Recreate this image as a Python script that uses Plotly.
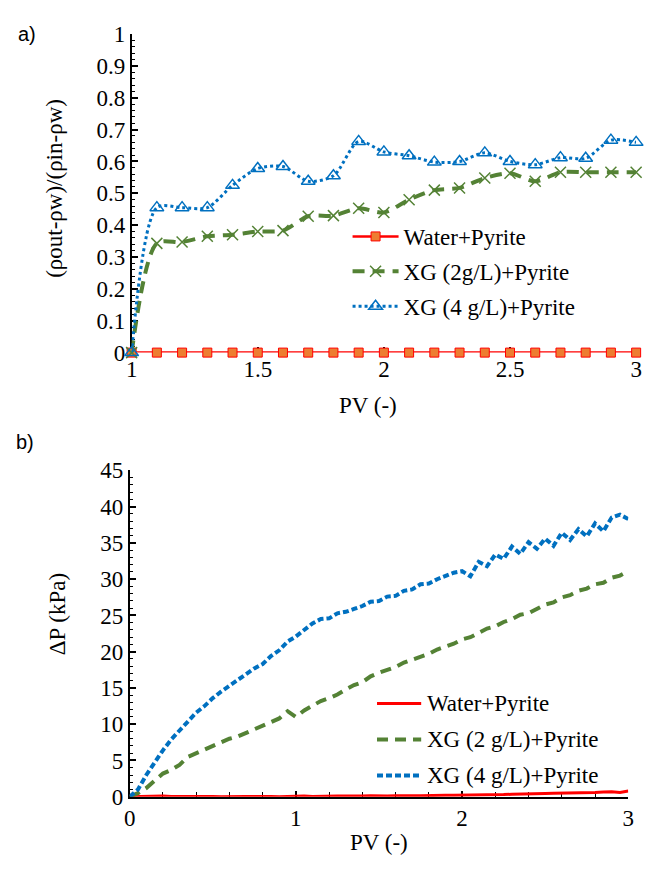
import plotly.graph_objects as go

W, H = 649, 869

# ---------- panel a) data ----------
pv_a = [1.0, 1.1, 1.2, 1.3, 1.4, 1.5, 1.6, 1.7, 1.8, 1.9, 2.0,
        2.1, 2.2, 2.3, 2.4, 2.5, 2.6, 2.7, 2.8, 2.9, 3.0]
water_a = [0.0] * 21
xg2_a = [0.0, 0.343, 0.347, 0.365, 0.370, 0.380, 0.383, 0.428, 0.430, 0.453, 0.440,
         0.480, 0.510, 0.517, 0.548, 0.563, 0.538, 0.566, 0.566, 0.566, 0.566]
xg4_a = [0.0, 0.455, 0.455, 0.455, 0.525, 0.578, 0.584, 0.538, 0.555, 0.663, 0.630,
         0.618, 0.598, 0.600, 0.627, 0.600, 0.590, 0.612, 0.610, 0.667, 0.660]

# ---------- panel b) data ----------
pv_b = [0.0, 0.05, 0.1, 0.15, 0.2, 0.25, 0.3, 0.35, 0.4, 0.45,
        0.5, 0.55, 0.6, 0.65, 0.7, 0.75, 0.8, 0.85, 0.9, 0.95,
        1.0, 1.05, 1.1, 1.15, 1.2, 1.25, 1.3, 1.35, 1.4, 1.45,
        1.5, 1.55, 1.6, 1.65, 1.7, 1.75, 1.8, 1.85, 1.9, 1.95,
        2.0, 2.05, 2.1, 2.15, 2.2, 2.25, 2.3, 2.35, 2.4, 2.45,
        2.5, 2.55, 2.6, 2.65, 2.7, 2.75, 2.8, 2.85, 2.9, 2.95, 3.0]
water_b = [0.0, 0.05, 0.0, 0.05, 0.1, 0.05, 0.0, 0.05, 0.05, 0.1,
           0.05, 0.0, 0.05, 0.1, 0.05, 0.05, 0.1, 0.05, 0.0, 0.05,
           0.05, 0.1, 0.05, 0.1, 0.05, 0.1, 0.1, 0.05, 0.1, 0.15,
           0.1, 0.1, 0.15, 0.1, 0.15, 0.15, 0.2, 0.15, 0.2, 0.2,
           0.2, 0.25, 0.2, 0.25, 0.3, 0.3, 0.35, 0.4, 0.4, 0.45,
           0.45, 0.5, 0.5, 0.55, 0.55, 0.6, 0.6, 0.65, 0.7, 0.6, 0.8]
xg2_b = [0.0, 0.5, 1.2, 2.2, 3.2, 3.7, 4.4, 5.5, 6.0, 6.6,
         7.1, 7.6, 8.0, 8.3, 8.8, 9.2, 9.7, 10.2, 10.8, 11.8,
         11.0, 11.9, 12.5, 13.2, 13.6, 14.1, 14.8, 15.4, 15.8, 16.6,
         17.1, 17.5, 17.9, 18.5, 18.9, 19.3, 19.7, 20.3, 20.7, 21.1,
         21.7, 22.0, 22.6, 23.2, 23.5, 24.1, 24.5, 25.1, 25.3, 25.9,
         26.5, 26.8, 27.5, 27.8, 28.4, 28.7, 29.3, 29.5, 30.2, 30.5, 31.1]
xg4_b = [0.0, 1.0, 3.0, 4.8, 6.4, 7.9, 9.2, 10.5, 11.6, 12.5,
         13.6, 14.5, 15.3, 16.1, 16.9, 17.7, 18.3, 19.4, 20.2, 21.4,
         22.1, 23.0, 23.9, 24.5, 24.6, 25.3, 25.5, 25.9, 26.3, 26.9,
         27.0, 27.6, 27.7, 28.4, 28.6, 29.3, 29.4, 30.0, 30.4, 30.9,
         31.1, 30.4, 32.4, 31.8, 33.4, 32.8, 34.5, 33.5, 35.1, 34.2,
         35.6, 34.6, 36.4, 35.4, 36.9, 35.9, 37.7, 36.6, 38.5, 38.9, 38.3]

legend_b = ["Water+Pyrite", "XG (2 g/L)+Pyrite", "XG (4 g/L)+Pyrite"]

GREEN = "#548235"
BLUE = "#0070C0"
RED = "#FF0000"
ORANGE = "#ED7D31"
SERIF = "Liberation Serif"
SANS = "Liberation Sans"

fig = go.Figure()

fig.add_trace(go.Scatter(
    x=pv_a, y=water_a, name="Water+Pyrite", mode="lines+markers",
    line=dict(color=RED, width=2.5),
    marker=dict(symbol="square", size=9, color=ORANGE, line=dict(color=RED, width=1)),
    xaxis="x", yaxis="y", legendgroup="a1", cliponaxis=False))
fig.add_trace(go.Scatter(
    x=pv_a, y=xg2_a, name="XG (2g/L)+Pyrite", mode="lines+markers",
    line=dict(color=GREEN, width=4, dash="12px,8px", shape="spline", smoothing=0.8),
    marker=dict(symbol="x-thin", size=11, color=GREEN, line=dict(color=GREEN, width=1.5)),
    xaxis="x", yaxis="y", legendgroup="a2", cliponaxis=False))
fig.add_trace(go.Scatter(
    x=pv_a, y=xg4_a, name="XG (4 g/L)+Pyrite", mode="lines+markers",
    line=dict(color=BLUE, width=3, dash="dot", shape="spline", smoothing=0.8),
    marker=dict(symbol="triangle-up-open", size=12, color=BLUE, line=dict(color=BLUE, width=1.5)),
    xaxis="x", yaxis="y", legendgroup="a3", cliponaxis=False))

b_styles = [dict(color=RED, width=3),
            dict(color=GREEN, width=4, dash="11px,7px"),
            dict(color=BLUE, width=4, dash="6px,3px")]
for name, yv, st in zip(legend_b, [water_b, xg2_b, xg4_b], b_styles):
    fig.add_trace(go.Scatter(x=pv_b, y=yv, name=name, mode="lines", line=st,
                             xaxis="x2", yaxis="y2", showlegend=False))

FS = 23

def fnt(size=FS, family=SERIF):
    return dict(family=family, size=size, color="black")

def px2x(p):
    return p / W

def px2y(p):
    return 1 - p / H

def axis(**kw):
    d = dict(showline=True, linecolor="black", linewidth=1.5, ticks="inside",
             tickcolor="black", tickwidth=1.5, showgrid=False, zeroline=False,
             tickfont=fnt(), layer="below traces")
    d.update(kw)
    return d

# hand-made legend for panel b (line samples + labels)
shapes = []
anns = []
for i, (name, st) in enumerate(zip(legend_b, b_styles)):
    yy = px2y(712 + 37 * i)
    shapes.append(dict(type="line", xref="paper", yref="paper",
                       x0=px2x(378), x1=px2x(423), y0=yy, y1=yy, line=st))
    anns.append(dict(text=name, x=px2x(427), y=yy, xref="paper", yref="paper",
                     xanchor="left", yanchor="middle", showarrow=False, font=fnt()))

anns += [
    dict(text="a)", x=px2x(10), y=px2y(23), xref="paper", yref="paper",
         xanchor="left", yanchor="middle", showarrow=False, font=fnt(20, SANS)),
    dict(text="b)", x=px2x(8), y=px2y(443), xref="paper", yref="paper",
         xanchor="left", yanchor="middle", showarrow=False, font=fnt(20, SANS)),
    dict(text="(ρout-ρw)/(ρin-ρw)", x=px2x(50), y=px2y(182), xref="paper", yref="paper",
         xanchor="center", yanchor="middle", textangle=-90, showarrow=False, font=fnt()),
    dict(text="ΔP (kPa)", x=px2x(52), y=px2y(620), xref="paper", yref="paper",
         xanchor="center", yanchor="middle", textangle=-90, showarrow=False, font=fnt()),
    dict(text="PV (-)", x=px2x(369), y=px2y(405), xref="paper", yref="paper",
         xanchor="center", yanchor="middle", showarrow=False, font=fnt()),
    dict(text="PV (-)", x=px2x(380), y=px2y(855), xref="paper", yref="paper",
         xanchor="center", yanchor="middle", showarrow=False, font=fnt()),
]

fig.update_layout(
    width=W, height=H, margin=dict(l=0, r=0, t=0, b=0),
    paper_bgcolor="white", plot_bgcolor="white",
    font=fnt(),
    xaxis=axis(domain=[px2x(128), px2x(642)], range=[1, 3], anchor="y",
               tickvals=[1, 1.5, 2, 2.5, 3], ticktext=["1", "1.5", "2", "2.5", "3"],
               ticklen=6, showline=False,
               minor=dict(dtick=0.1, ticks="inside", ticklen=4, tickcolor="black", tickwidth=1.2)),
    yaxis=axis(domain=[px2y(350.7), px2y(22.7)], range=[0, 1], anchor="x",
               dtick=0.1, ticklen=7,
               minor=dict(dtick=0.02, ticks="inside", ticklen=4, tickcolor="black", tickwidth=1.2)),
    xaxis2=axis(domain=[px2x(126), px2x(634)], range=[0, 3], anchor="y2",
                dtick=1, ticklen=6,
                minor=dict(dtick=0.2, ticks="inside", ticklen=5, tickcolor="black", tickwidth=1.2)),
    yaxis2=axis(domain=[px2y(808), px2y(472)], range=[0, 45], anchor="x2",
                dtick=5, ticklen=7,
                minor=dict(dtick=1, ticks="inside", ticklen=4, tickcolor="black", tickwidth=1.2)),
    legend=dict(x=px2x(348), y=px2y(209), xanchor="left", yanchor="top",
                bgcolor="rgba(0,0,0,0)", itemwidth=46, tracegroupgap=2, font=fnt()),
    shapes=shapes,
    annotations=anns,
)

fig.write_html("out.html")
